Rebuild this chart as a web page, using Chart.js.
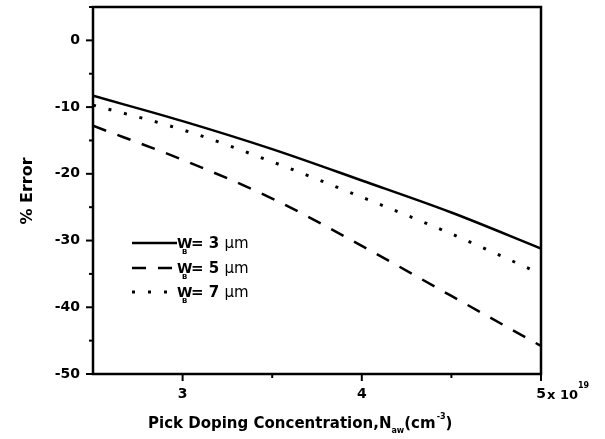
<!DOCTYPE html>
<html>
<head>
<meta charset="utf-8">
<script src="https://cdn.jsdelivr.net/npm/chart.js@4"></script>
<style>
  html, body { margin: 0; padding: 0; background: #fff; }
  #wrap { width: 605px; height: 439px; }
</style>
</head>
<body>
<div id="wrap"><canvas id="errChart"></canvas></div>
<script>
// doping concentration (x 10^19 cm^-3)
const doping = [2.5, 3.0, 3.5, 4.0, 4.5, 5.0];
// % error for each base width
const errW3 = [-8.3, -12.1, -16.3, -21.0, -25.8, -31.2];
const errW5 = [-12.8, -17.9, -23.7, -30.8, -38.3, -45.8];
const errW7 = [-9.7, -13.4, -18.2, -23.5, -29.0, -35.0];
const widths = ['3', '5', '7'];

const FONT = '"DejaVu Sans", sans-serif';

function pts(ys) {
  return doping.map((x, i) => ({ x: x, y: ys[i] }));
}

const dashes = [[], [14, 12], [3, 13]];
const series = [errW3, errW5, errW7];

const datasets = series.map((ys, i) => ({
  label: 'WB = ' + widths[i] + ' \u00b5m',
  data: pts(ys),
  borderColor: '#000',
  borderWidth: i == 2 ? 3 : 2.5,
  borderDash: dashes[i],
  pointRadius: 0,
  cubicInterpolationMode: 'monotone',
  fill: false
}));

const decorPlugin = {
  id: 'decor',
  afterDraw(chart) {
    const ctx = chart.ctx;
    const a = chart.chartArea;
    const xs = chart.scales.x, ys = chart.scales.y;
    ctx.save();
    ctx.strokeStyle = '#000';
    ctx.fillStyle = '#000';

    // frame
    ctx.lineWidth = 2.5;
    ctx.strokeRect(a.left, a.top, a.right - a.left, a.bottom - a.top);

    // ticks
    ctx.lineWidth = 2;
    for (let v = -50; v <= 5; v += 5) {
      const py = ys.getPixelForValue(v);
      const len = v % 10 == 0 ? 7 : 4;
      ctx.beginPath();
      ctx.moveTo(a.left, py);
      ctx.lineTo(a.left - len, py);
      ctx.stroke();
    }
    for (let v = 3; v <= 5; v += 0.5) {
      const px = xs.getPixelForValue(v);
      const len = Number.isInteger(v) ? 7 : 4;
      ctx.beginPath();
      ctx.moveTo(px, a.bottom);
      ctx.lineTo(px, a.bottom + len);
      ctx.stroke();
    }

    // x 10^19 next to the last tick label
    const x5 = xs.getPixelForValue(5);
    ctx.textBaseline = 'alphabetic';
    ctx.textAlign = 'left';
    ctx.font = 'bold 13px ' + FONT;
    ctx.fillText('x 10', x5 + 6, 399);
    ctx.font = 'bold 8px ' + FONT;
    ctx.fillText('19', x5 + 37, 388);

    // x axis title
    let tx = 148;
    const by = 428;
    ctx.font = 'bold 15px ' + FONT;
    ctx.fillText('Pick Doping Concentration,N', tx, by);
    tx += ctx.measureText('Pick Doping Concentration,N').width;
    ctx.font = 'bold 8px ' + FONT;
    ctx.fillText('aw', tx, by + 5);
    tx += ctx.measureText('aw').width;
    ctx.font = 'bold 15px ' + FONT;
    ctx.fillText('(cm', tx, by);
    tx += ctx.measureText('(cm').width;
    ctx.font = 'bold 8px ' + FONT;
    ctx.fillText('-3', tx + 1, by - 9);
    tx += ctx.measureText('-3').width + 1;
    ctx.font = 'bold 15px ' + FONT;
    ctx.fillText(')', tx, by);

    // y axis title
    ctx.save();
    ctx.translate(32, 191);
    ctx.rotate(-Math.PI / 2);
    ctx.textAlign = 'center';
    ctx.font = 'bold 16px ' + FONT;
    ctx.fillText('% Error', 0, 0);
    ctx.restore();

    // legend
    const legY = [243, 268, 292];
    chart.data.datasets.forEach((ds, i) => {
      const y = legY[i];
      ctx.lineWidth = ds.borderWidth;
      ctx.setLineDash(ds.borderDash);
      ctx.beginPath();
      ctx.moveTo(132, y);
      ctx.lineTo(177, y);
      ctx.stroke();
      ctx.setLineDash([]);
      ctx.textAlign = 'left';
      ctx.font = 'bold 14px ' + FONT;
      ctx.fillText('W', 177, y + 5);
      ctx.font = 'bold 7px ' + FONT;
      ctx.fillText('B', 182, y + 11);
      ctx.font = 'bold 15px ' + FONT;
      const t = '= ' + widths[i] + ' ';
      ctx.fillText(t, 191, y + 5);
      const w = ctx.measureText(t).width;
      ctx.font = '15px ' + FONT;
      ctx.fillText('\u00b5m', 191 + w, y + 5);
    });
    ctx.restore();
  }
};

new Chart(document.getElementById('errChart'), {
  type: 'line',
  data: { datasets: datasets },
  options: {
    responsive: true,
    maintainAspectRatio: false,
    animation: false,
    layout: { padding: { top: 7, right: 64, left: 0, bottom: 0 } },
    plugins: {
      legend: { display: false },
      tooltip: { enabled: false }
    },
    scales: {
      x: {
        type: 'linear',
        min: 2.5,
        max: 5,
        afterFit: s => { s.height = 65; s.paddingLeft = 0; s.paddingRight = 0; },
        grid: { display: false, drawTicks: false },
        border: { display: false },
        ticks: {
          stepSize: 0.5,
          padding: 12,
          color: '#000',
          font: { family: FONT, size: 14, weight: 'bold' },
          maxRotation: 0,
          callback: v => Number.isInteger(v) ? String(v) : ''
        }
      },
      y: {
        min: -50,
        max: 5,
        afterFit: s => { s.width = 93; s.paddingTop = 0; s.paddingBottom = 0; },
        grid: { display: false, drawTicks: false },
        border: { display: false },
        ticks: {
          stepSize: 5,
          padding: 13,
          color: '#000',
          font: { family: FONT, size: 14, weight: 'bold' },
          callback: v => v % 10 == 0 ? String(v) : ''
        }
      }
    }
  },
  plugins: [decorPlugin]
});
</script>
</body>
</html>
